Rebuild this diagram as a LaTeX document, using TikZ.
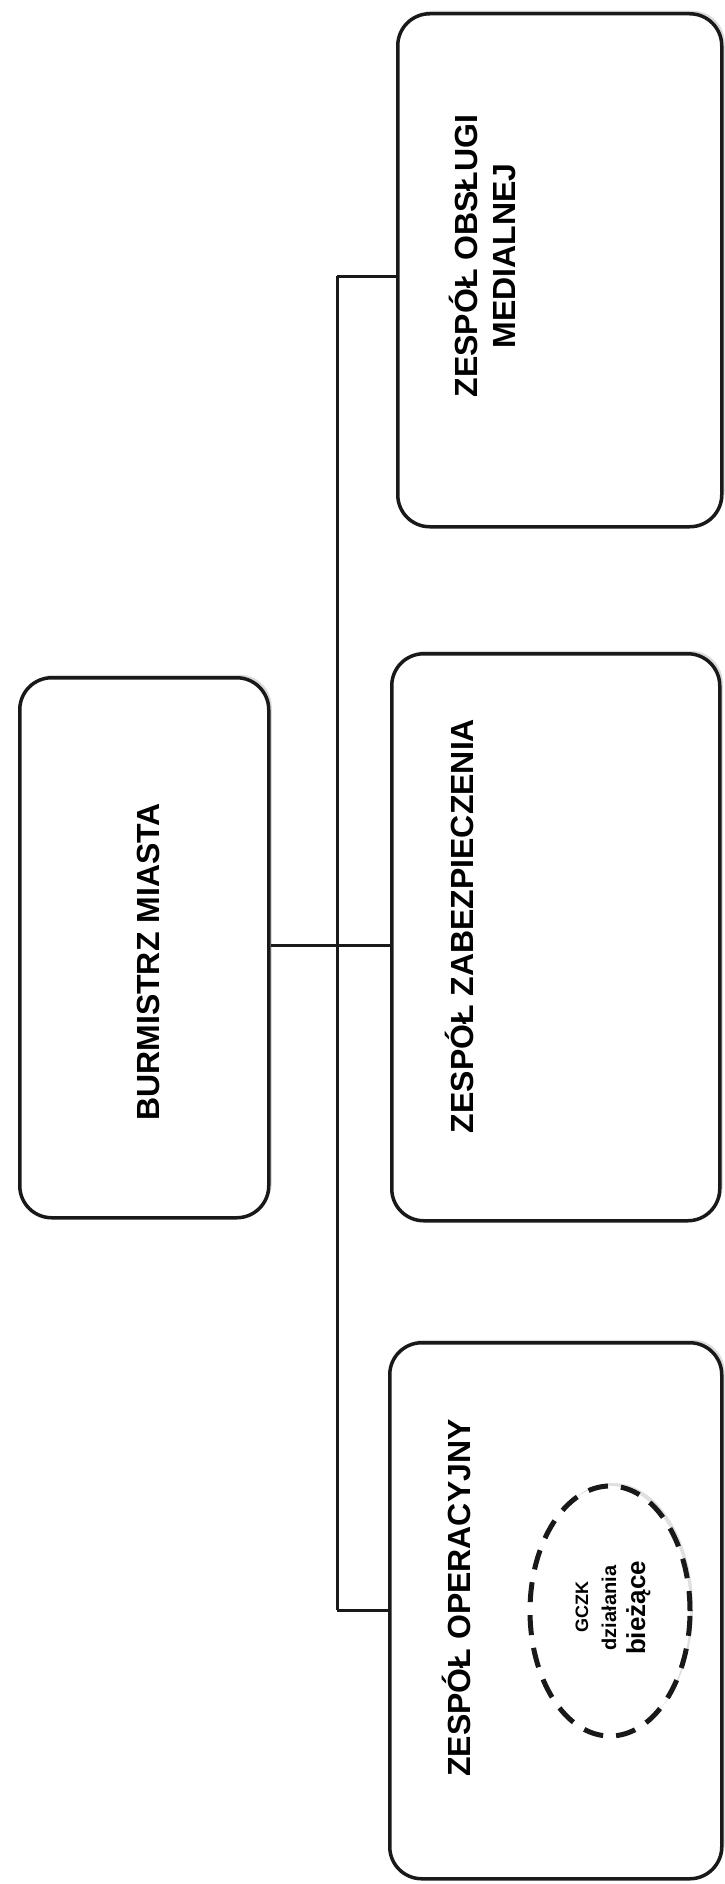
\documentclass[tikz,border=0pt]{standalone}
\usepackage{fontspec}
\setmainfont{Liberation Sans}
\usetikzlibrary{shadows,shapes.geometric}
\tikzset{
  orgbox/.style={draw=black!90, line width=3.5pt, rounded corners=32pt, fill=white,
    drop shadow={shadow xshift=3pt, shadow yshift=3pt, opacity=0.35, fill=black!40}},
  rottext/.style={rotate=90, font=\fontsize{32}{38}\selectfont\bfseries, align=center, inner sep=0pt},
  smalltext/.style={rotate=90, anchor=base, inner sep=0pt, font=\bfseries},
  link/.style={line width=3pt, black!90}
}
\begin{document}
\begin{tikzpicture}[x=1pt,y=-1pt]
\useasboundingbox (0,0) rectangle (724,1884);
% boxes
\node[orgbox, minimum width=249pt, minimum height=540pt, anchor=north west] (burm) at (18,676) {};
\node[orgbox, minimum width=324pt, minimum height=513pt, anchor=north west] (med) at (396,12) {};
\node[orgbox, minimum width=328pt, minimum height=567pt, anchor=north west] (zab) at (390,652) {};
\node[orgbox, minimum width=332pt, minimum height=536pt, anchor=north west] (ope) at (388,1341) {};
% texts
\node[rottext] (tburm) at (148,962) {BURMISTRZ MIASTA};
\node[rottext] (tmed) at (482,256) {ZESPÓŁ OBSŁUGI\\MEDIALNEJ};
\node[rottext] (tzab) at (459,926) {ZESPÓŁ ZABEZPIECZENIA};
\node[rottext] (tope) at (456,1598) {ZESPÓŁ OPERACYJNY};
% ellipse
\node[ellipse, draw=black!90, line width=5pt, dash pattern=on 20pt off 13pt,
  minimum width=160pt, minimum height=250pt, fill=white,
  drop shadow={shadow xshift=3pt, shadow yshift=3pt, opacity=0.3, fill=black!40}] (gczk) at (610,1611) {};
\node[smalltext, font=\fontsize{18}{20}\selectfont\bfseries] (t1) at (588,1607) {GCZK};
\node[smalltext, font=\fontsize{20}{22}\selectfont\bfseries] (t2) at (616,1608) {działania};
\node[smalltext, font=\fontsize{26}{28}\selectfont\bfseries] (t3) at (645,1608) {bieżące};
% connectors
\coordinate (trunkTop) at (337,276);
\coordinate (trunkBot) at (337,1610);
\draw[link] (burm.east |- 0,945) -- (zab.west |- 0,945);
\draw[link] (trunkTop) -- (trunkBot);
\draw[link] (trunkTop) -- (med.west |- trunkTop);
\draw[link] (trunkBot) -- (ope.west |- trunkBot);
\end{tikzpicture}
\end{document}
